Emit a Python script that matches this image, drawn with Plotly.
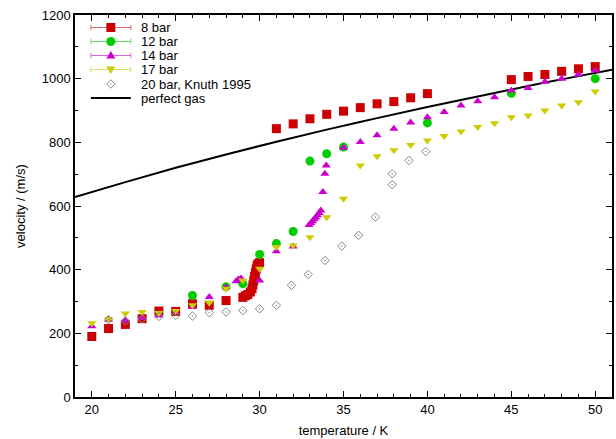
import plotly.graph_objects as go

# ---- data ----
T8 = [20, 21, 22, 23, 24, 25, 26, 27, 28,
      29.0, 29.15, 29.3, 29.45, 29.55, 29.6, 29.65, 29.7, 29.75, 29.8, 29.85, 29.9, 30.0,
      31, 32, 33, 34, 35, 36, 37, 38, 39, 40,
      45, 46, 47, 48, 49, 50]
v8 = [190, 215, 228, 246, 270, 269, 293, 288, 303,
      313, 318, 322, 330, 340, 352, 365, 378, 390, 402, 412, 418, 422,
      843, 858, 874, 888, 898, 909, 921, 928, 940, 953,
      997, 1007, 1013, 1023, 1031, 1038]

T12 = [26, 28, 29, 30, 31, 32, 33, 34, 35, 40, 45, 50]
v12 = [319, 346, 356, 448, 482, 520, 741, 764, 785, 861, 954, 1000]

T14 = [20, 21, 22, 23, 24, 25, 26, 27, 28, 28.6, 28.75, 28.9, 30, 31, 32,
       32.95, 33.05, 33.15, 33.25, 33.35, 33.45, 33.55, 33.65, 33.77, 33.89, 33.97,
       35, 36, 37, 38, 39, 40, 41, 42, 43, 44, 45, 46, 47, 48, 49, 50]
v14 = [222, 243, 240, 249, 256, 267, 283, 314, 345, 364, 370, 372, 366, 458, 473,
       540, 546, 552, 558, 564, 571, 578, 586, 644, 701, 727,
       783, 801, 822, 843, 862, 879, 895, 916, 929, 942, 963, 971, 990, 1000, 1013, 1026]

T17 = [20, 21, 22, 23, 24, 25, 26, 27, 28, 29, 30, 31, 32, 33, 34, 35, 36, 37, 38, 39, 40,
       41, 42, 43, 44, 45, 46, 47, 48, 49, 50]
v17 = [232, 245, 262, 267, 264, 270, 288, 296, 340, 366, 403, 471, 476, 502, 565, 623, 727,
       756, 775, 792, 806, 820, 834, 848, 860, 879, 884, 900, 916, 926, 960]

T20 = [21, 22, 23, 24, 25, 26, 27, 28, 29, 30, 31, 31.9, 32.9, 33.9, 34.9, 35.9, 36.9,
       37.9, 37.9, 38.9, 39.9]
v20 = [243, 239, 245, 253, 256, 254, 265, 267, 272, 277, 288, 351, 385, 429, 474, 508, 565,
       667, 701, 743, 771]

Tgas = [19, 22, 25, 28, 31, 34, 37, 40, 43, 46, 49, 51]
vgas = [628, 675, 720, 762, 802, 840, 876, 911, 944, 977, 1008, 1028]

legend_labels = ["8 bar", "12 bar", "14 bar", "17 bar", "20 bar, Knuth 1995", "perfect gas"]

FONT = "Liberation Sans, Arial, sans-serif"

RED, GREEN, MAG, YEL, GRAY = "#cc0000", "#00cc00", "#cc00cc", "#cccc00", "#888888"
series = [
    (T8, v8, "square", RED, 9),
    (T12, v12, "circle", GREEN, 9),
    (T14, v14, "triangle-up", MAG, 8),
    (T17, v17, "triangle-down", YEL, 8),
]

fig = go.Figure()

fig.add_trace(go.Scatter(x=Tgas, y=vgas, mode="lines",
                         line=dict(color="black", width=2, shape="spline"), showlegend=False))

for xs, ys, sym, col, sz in series:
    fig.add_trace(go.Scatter(x=xs, y=ys, mode="markers", showlegend=False,
                             marker=dict(symbol=sym, color=col, size=sz, line=dict(width=0))))

fig.add_trace(go.Scatter(x=T20, y=v20, mode="markers", showlegend=False,
                         marker=dict(symbol="diamond-open-dot", color=GRAY, size=6.5,
                                     line=dict(width=1, color=GRAY))))

# ---- hand-built legend (gnuplot style key) ----
W, H = 616, 439
ML, MR, MT, MB = 75, 2, 15, 42
PW, PH = W - ML - MR, H - MT - MB


def px(xpix):
    return (xpix - ML) / PW


def py(ypix):
    return (H - MB - ypix) / PH


rows = [27.5, 41.5, 55.5, 69.5, 84, 98]
x_l, x_r, x_c, x_t = 91, 131, 111, 139
light = ["#e06868", "#66dd66", "#dd66dd", "#dddd66"]
kinds = ["square", "circle", "tri-up", "tri-down"]
cols = [RED, GREEN, MAG, YEL]
shapes = []
for i, yr in enumerate(rows[:4]):
    lc = light[i]
    shapes.append(dict(type="line", xref="paper", yref="paper", x0=px(x_l), x1=px(x_r),
                       y0=py(yr), y1=py(yr), line=dict(color=lc, width=1)))
    for xe in (x_l, x_r):
        shapes.append(dict(type="line", xref="paper", yref="paper", x0=px(xe), x1=px(xe),
                           y0=py(yr - 2.5), y1=py(yr + 2.5), line=dict(color=lc, width=1)))
    c = cols[i]
    k = kinds[i]
    if k == "square":
        shapes.append(dict(type="rect", xref="paper", yref="paper", x0=px(x_c - 4.5), x1=px(x_c + 4.5),
                           y0=py(yr - 4.5), y1=py(yr + 4.5), fillcolor=c, line=dict(width=0)))
    elif k == "circle":
        shapes.append(dict(type="circle", xref="paper", yref="paper", x0=px(x_c - 4.5), x1=px(x_c + 4.5),
                           y0=py(yr - 4.5), y1=py(yr + 4.5), fillcolor=c, line=dict(width=0)))
    else:
        s = 1 if k == "tri-up" else -1
        path = (f"M {px(x_c - 4.6)},{py(yr + s * 3)} L {px(x_c + 4.6)},{py(yr + s * 3)} "
                f"L {px(x_c)},{py(yr - s * 4.5)} Z")
        shapes.append(dict(type="path", xref="paper", yref="paper", path=path,
                           fillcolor=c, line=dict(width=0)))
# diamond for 20 bar
yr = rows[4]
d = 4.2
path = (f"M {px(x_c - d)},{py(yr)} L {px(x_c)},{py(yr - d)} L {px(x_c + d)},{py(yr)} "
        f"L {px(x_c)},{py(yr + d)} Z")
shapes.append(dict(type="path", xref="paper", yref="paper", path=path,
                   line=dict(color=GRAY, width=1), fillcolor="rgba(0,0,0,0)"))
shapes.append(dict(type="circle", xref="paper", yref="paper", x0=px(x_c - 0.7), x1=px(x_c + 0.7),
                   y0=py(yr - 0.7), y1=py(yr + 0.7), fillcolor=GRAY, line=dict(width=0)))
# perfect gas line
yr = rows[5]
shapes.append(dict(type="line", xref="paper", yref="paper", x0=px(x_l), x1=px(x_r),
                   y0=py(yr), y1=py(yr), line=dict(color="black", width=2)))

annotations = []
for lab, yr in zip(legend_labels, rows):
    annotations.append(dict(text=lab, xref="paper", yref="paper", x=px(x_t), y=py(yr),
                            xanchor="left", yanchor="middle", showarrow=False,
                            font=dict(family=FONT, size=13, color="black")))

axis_common = dict(
    showline=True, linecolor="black", linewidth=1.5, mirror="allticks",
    ticks="inside", ticklen=6, tickwidth=1, tickcolor="black",
    showgrid=False, zeroline=False,
    tickfont=dict(family=FONT, size=13, color="black"),
)

fig.update_layout(
    width=W, height=H,
    margin=dict(l=ML, r=MR, t=MT, b=MB),
    paper_bgcolor="white", plot_bgcolor="white",
    font=dict(family=FONT, size=13, color="black"),
    showlegend=False,
    shapes=shapes,
    annotations=annotations,
    xaxis=dict(range=[19, 51], tick0=20, dtick=5,
               minor=dict(ticks="inside", dtick=1, ticklen=3, tickcolor="black"),
               title=dict(text="temperature / K", font=dict(family=FONT, size=13), standoff=10),
               **axis_common),
    yaxis=dict(range=[0, 1200], tick0=0, dtick=200,
               minor=dict(ticks="inside", dtick=100, ticklen=3, tickcolor="black"),
               title=dict(text="velocity / (m/s)", font=dict(family=FONT, size=13), standoff=13),
               **axis_common),
)

fig.write_html("out.html")
